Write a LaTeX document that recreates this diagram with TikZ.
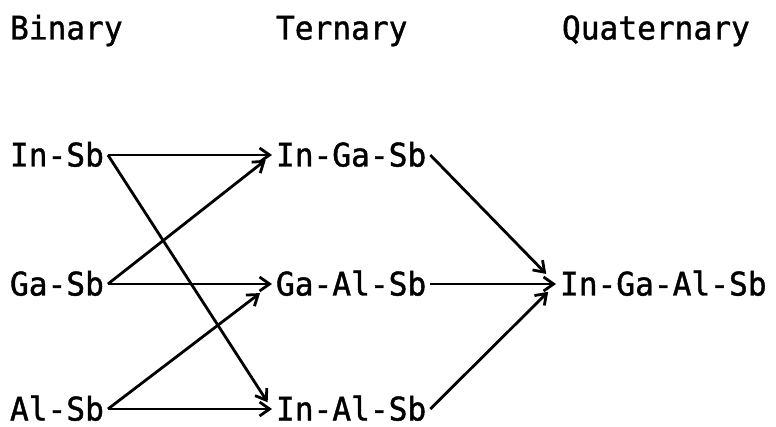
\documentclass[tikz,border=0pt]{standalone}
\usepackage{fontspec}
\usepackage{tikz}
\usetikzlibrary{arrows.meta,positioning}
\newfontfamily\alloyfont[FakeBold=1.2,FakeStretch=0.96]{DejaVu Sans Mono}

\begin{document}
\begin{tikzpicture}[x=1pt,y=-1pt,
      alloy/.style={anchor=west,inner sep=0pt,outer xsep=4pt,
      text height=23pt,text depth=0pt,font=\alloyfont\fontsize{32.5}{38}\selectfont},
      arr/.style={-{Straight Barb[length=10pt,width=14pt]},line width=2.8pt}]
      \useasboundingbox (0,0) rectangle (776,427);
      % column titles
      \node[alloy] (tbin) at (6,28) {Binary};
      \node[alloy] (tter) at (272,28) {Ternary};
      \node[alloy] (tqua) at (558,28) {Quaternary};
      % binary
      \node[alloy] (insb) at (6,155) {In-Sb};
      \node[alloy] (gasb) at (6,284) {Ga-Sb};
      \node[alloy] (alsb) at (6,409) {Al-Sb};
      % ternary
      \node[alloy] (ingasb) at (272,155) {In-Ga-Sb};
      \node[alloy] (gaalsb) at (272,284) {Ga-Al-Sb};
      \node[alloy] (inalsb) at (272,409) {In-Al-Sb};
      % quaternary
      \node[alloy] (ingaalsb) at (556,284) {In-Ga-Al-Sb};
      \draw[arr] (insb.east)--(ingasb.west);
      \draw[arr,shorten >=8pt] (insb.east)--(inalsb.west);
      \draw[arr,shorten >=8pt] (gasb.east)--(ingasb.west);
      \draw[arr] (gasb.east)--(gaalsb.west);
      \draw[arr,shorten >=15pt] (alsb.east)--(gaalsb.west);
      \draw[arr] (alsb.east)--(inalsb.west);
      \draw[arr,shorten >=14pt] (ingasb.east)--(ingaalsb.west);
      \draw[arr] (gaalsb.east)--(ingaalsb.west);
      \draw[arr,shorten >=11pt] (inalsb.east)--(ingaalsb.west);
    \end{tikzpicture}
\end{document}
